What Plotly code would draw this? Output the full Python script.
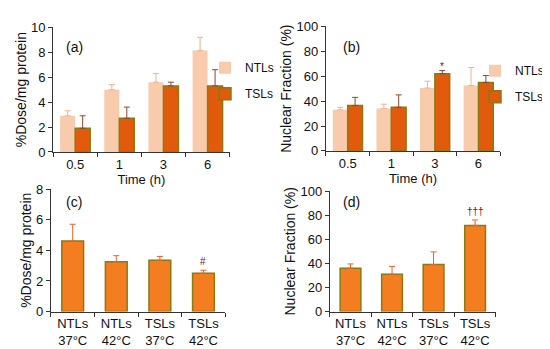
import plotly.graph_objects as go

# ---- data ----
time_cats = ["0.5", "1", "3", "6"]
a_ntl = [2.9, 5.0, 5.6, 8.15]
a_ntl_err = [0.4, 0.4, 0.7, 1.05]
a_tsl = [1.9, 2.7, 5.3, 5.3]
a_tsl_err = [1.0, 0.9, 0.3, 1.3]

b_ntl = [33.0, 34.0, 50.5, 52.5]
b_ntl_err = [2.0, 3.5, 5.5, 14.5]
b_tsl = [36.5, 35.0, 62.0, 55.0]
b_tsl_err = [6.5, 10.0, 2.5, 5.5]

cond_cats = ["NTLs<br>37°C", "NTLs<br>42°C", "TSLs<br>37°C", "TSLs<br>42°C"]
c_vals = [4.6, 3.25, 3.35, 2.5]
c_err = [1.1, 0.4, 0.25, 0.2]
d_vals = [36.0, 31.0, 39.0, 71.5]
d_err = [3.5, 6.5, 10.5, 4.5]

NTL_COL = "#F8CBAD"
TSL_COL = "#E25A0C"
OLIVE = "#8A7A12"
BOT_COL = "#F47D20"
FONT = "Liberation Sans, Arial, sans-serif"
TXT = "#111111"

fig = go.Figure()

def errs(vals):
    return dict(type="data", array=vals, arrayminus=[0] * len(vals), symmetric=False,
                thickness=1, width=3)

# (a)
fig.add_trace(go.Bar(x=time_cats, y=a_ntl, name="NTLs", marker=dict(color=NTL_COL, line=dict(width=0)),
                     error_y={**errs(a_ntl_err), "color": "#EDB48E"}, xaxis="x", yaxis="y",
                     legend="legend", legendgroup="n"))
fig.add_trace(go.Bar(x=time_cats, y=a_tsl, name="TSLs", marker=dict(color=TSL_COL, line=dict(color=OLIVE, width=1.5)),
                     error_y={**errs(a_tsl_err), "color": "#8B4A2A"}, xaxis="x", yaxis="y",
                     legend="legend", legendgroup="t"))
# (b)
fig.add_trace(go.Bar(x=time_cats, y=b_ntl, name="NTLs", marker=dict(color=NTL_COL, line=dict(width=0)),
                     error_y={**errs(b_ntl_err), "color": "#EDB48E"}, xaxis="x2", yaxis="y2",
                     legend="legend2", legendgroup="n2"))
fig.add_trace(go.Bar(x=time_cats, y=b_tsl, name="TSLs", marker=dict(color=TSL_COL, line=dict(color=OLIVE, width=1.5)),
                     error_y={**errs(b_tsl_err), "color": "#8B4A2A"}, xaxis="x2", yaxis="y2",
                     legend="legend2", legendgroup="t2"))
# (c)
fig.add_trace(go.Bar(x=cond_cats, y=c_vals, width=0.5, showlegend=False,
                     marker=dict(color=BOT_COL, line=dict(color=OLIVE, width=1.5)),
                     error_y={**errs(c_err), "color": "#E8632A"}, xaxis="x3", yaxis="y3"))
# (d)
fig.add_trace(go.Bar(x=cond_cats, y=d_vals, width=0.5, showlegend=False,
                     marker=dict(color=BOT_COL, line=dict(color=OLIVE, width=1.5)),
                     error_y={**errs(d_err), "color": "#E8632A"}, xaxis="x4", yaxis="y4"))

axis_common = dict(showline=True, linecolor="#333333", linewidth=1, ticks="outside", ticklen=4,
                   tickcolor="#333333", showgrid=False, zeroline=False,
                   tickfont=dict(size=13, family=FONT, color=TXT))

def xax(domain, anchor, title=None):
    d = dict(axis_common, domain=domain, anchor=anchor, type="category", tickson="boundaries",
             tickangle=0)
    if title:
        d["title"] = dict(text=title, font=dict(size=13, family=FONT, color=TXT), standoff=2)
    return d

def yax(domain, anchor, rng, dtick, title):
    return dict(axis_common, domain=domain, anchor=anchor, range=rng, dtick=dtick,
                title=dict(text=title, font=dict(size=14, family=FONT, color=TXT), standoff=1))

leg_font = dict(size=12, family=FONT, color=TXT)

fig.update_layout(
    width=550, height=349,
    margin=dict(l=0, r=0, t=0, b=0),
    paper_bgcolor="white", plot_bgcolor="white",
    barmode="group", bargap=0.32, bargroupgap=0,
    font=dict(family=FONT, size=13, color=TXT),
    xaxis=xax([0.082, 0.403], "y", "Time (h)"),
    yaxis=yax([0.590, 0.963], "x", [0, 10], 2, "%Dose/mg protein"),
    xaxis2=xax([0.578, 0.895], "y2", "Time (h)"),
    yaxis2=yax([0.593, 0.966], "x2", [0, 100], 20, "Nuclear Fraction (%)"),
    xaxis3=xax([0.078, 0.395], "y3"),
    yaxis3=yax([0.112, 0.479], "x3", [0, 8], 2, "%Dose/mg protein"),
    xaxis4=xax([0.585, 0.887], "y4"),
    yaxis4=yax([0.112, 0.473], "x4", [0, 100], 20, "Nuclear Fraction (%)"),
    legend=dict(x=197 / 550, y=1 - 40 / 349, xanchor="left", yanchor="top", bgcolor="rgba(0,0,0,0)",
                tracegroupgap=7, font=leg_font),
    legend2=dict(x=467 / 550, y=1 - 43 / 349, xanchor="left", yanchor="top", bgcolor="rgba(0,0,0,0)",
                 tracegroupgap=7, font=leg_font),
)

lab = dict(showarrow=False, font=dict(size=14, family=FONT, color=TXT))
fig.add_annotation(text="(a)", xref="paper", yref="paper", x=56 / 550, y=1 - 23 / 349, xanchor="left", **lab)
fig.add_annotation(text="(b)", xref="paper", yref="paper", x=333 / 550, y=1 - 23 / 349, xanchor="left", **lab)
fig.add_annotation(text="(c)", xref="paper", yref="paper", x=56 / 550, y=1 - 195 / 349, xanchor="left", **lab)
fig.add_annotation(text="(d)", xref="paper", yref="paper", x=333 / 550, y=1 - 195 / 349, xanchor="left", **lab)

mark = dict(showarrow=False, font=dict(size=10, family=FONT, color="#7A1020"), yanchor="bottom")
fig.add_annotation(text="*", x=time_cats.index("3"), y=b_tsl[2] + b_tsl_err[2], xref="x2", yref="y2",
                   xshift=7.5, yshift=-3, **mark)
fig.add_annotation(text="#", x=3, y=c_vals[3] + c_err[3], xref="x3", yref="y3", yshift=1, **mark)
fig.add_annotation(text="†††", x=3, y=d_vals[3] + d_err[3], xref="x4", yref="y4", yshift=1, **mark)

fig.write_html("out.html")
